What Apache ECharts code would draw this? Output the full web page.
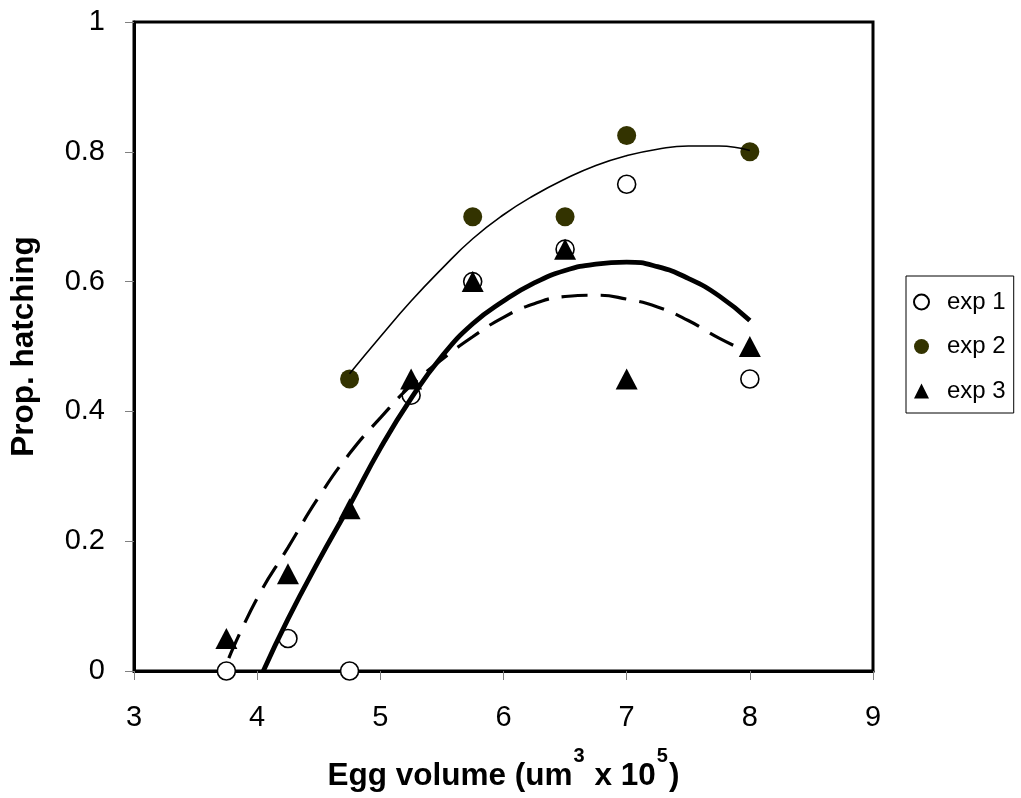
<!DOCTYPE html>
<html>
<head>
<meta charset="utf-8">
<script src="https://cdn.jsdelivr.net/npm/echarts@6/dist/echarts.min.js"></script>
<style>
  html, body { margin: 0; padding: 0; background: #fff; }
  #chart { width: 1021px; height: 798px; }
</style>
</head>
<body>
<div id="chart"></div>
<script>
// Egg volume (x 10^5 um^3) against proportion hatching, three experiments
const exp1 = [[3.75, 0], [4.25, 0.05], [4.75, 0], [5.25, 0.425], [5.75, 0.6], [6.5, 0.65], [7, 0.75], [8, 0.45]];
const exp2 = [[4.75, 0.45], [5.75, 0.7], [6.5, 0.7], [7, 0.825], [8, 0.8]];
const exp3 = [[3.75, 0.05], [4.25, 0.15], [4.75, 0.25], [5.25, 0.45], [5.75, 0.6], [6.5, 0.65], [7, 0.45], [8, 0.5]];

// Fitted trend curves (points along each curve)
const trendExp2 = [[4.75, 0.458], [5.0, 0.515], [5.25, 0.57], [5.5, 0.62], [5.75, 0.666], [6.0, 0.703], [6.25, 0.733],
  [6.5, 0.758], [6.75, 0.779], [7.0, 0.794], [7.25, 0.804], [7.5, 0.809], [7.75, 0.809], [8.0, 0.802]];
const trendExp1 = [[4.05, 0], [4.25, 0.08], [4.5, 0.17], [4.75, 0.255], [5.0, 0.343], [5.25, 0.42], [5.5, 0.485],
  [5.75, 0.535], [6.0, 0.57], [6.25, 0.598], [6.5, 0.617], [6.75, 0.627], [7.0, 0.63], [7.25, 0.623], [7.5, 0.605],
  [7.75, 0.578], [8.0, 0.54]];
const trendExp3 = [[3.77, 0.02], [4.0, 0.112], [4.25, 0.19], [4.5, 0.268], [4.75, 0.335], [5.0, 0.39], [5.25, 0.44],
  [5.5, 0.48], [5.75, 0.515], [6.0, 0.545], [6.25, 0.566], [6.5, 0.577], [6.75, 0.579], [7.0, 0.573], [7.25, 0.561],
  [7.5, 0.54], [7.75, 0.513], [8.0, 0.49]];

const xTicks = { min: 3, max: 9, step: 1 };
const yTicks = { min: 0, max: 1, step: 0.2 };
const seriesNames = ['exp 1', 'exp 2', 'exp 3'];

const FONT = "'Liberation Sans', Arial, sans-serif";

const chart = echarts.init(document.getElementById('chart'), null, { renderer: 'canvas' });

chart.setOption({
  backgroundColor: '#ffffff',
  animation: false,
  grid: {
    left: 134, right: 148, top: 22, bottom: 127,
    containLabel: false,
    outerBoundsMode: 'none',
    show: true, borderColor: '#000', borderWidth: 3, backgroundColor: 'transparent'
  },
  legend: {
    data: seriesNames,
    orient: 'vertical',
    left: 906, top: 276,
    padding: [12, 8, 8, 7],
    itemGap: 16.5,
    itemWidth: 15, itemHeight: 15,
    borderColor: '#000', borderWidth: 1,
    textStyle: { fontFamily: FONT, fontSize: 24, lineHeight: 28, color: '#000', padding: [0, 0, 0, 13] }
  },
  xAxis: {
    type: 'value',
    min: xTicks.min, max: xTicks.max, interval: xTicks.step,
    name: '{b|Egg volume (um}{sup|3}{b| x 10}{sup|5}{b|)}',
    nameLocation: 'middle',
    nameGap: 86,
    nameTextStyle: {
      rich: {
        b: { fontFamily: FONT, fontSize: 31.5, fontWeight: 'bold', color: '#000', lineHeight: 38 },
        sup: { fontFamily: FONT, fontSize: 20, fontWeight: 'bold', color: '#000', lineHeight: 38, padding: [0, 1, 40, 1] }
      }
    },
    axisLine: { show: true, onZero: false, lineStyle: { color: '#000', width: 3 } },
    axisTick: { show: true, length: 9, lineStyle: { color: '#808080', width: 1 } },
    axisLabel: { fontFamily: FONT, fontSize: 29, color: '#000', margin: 32 },
    splitLine: { show: false }
  },
  yAxis: {
    type: 'value',
    min: yTicks.min, max: yTicks.max, interval: yTicks.step,
    name: 'Prop. hatching',
    nameLocation: 'middle',
    nameRotate: 90,
    nameGap: 94,
    nameTextStyle: { fontFamily: FONT, fontSize: 31.5, fontWeight: 'bold', color: '#000' },
    axisLine: { show: true, onZero: false, lineStyle: { color: '#000', width: 3 } },
    axisTick: { show: true, length: 9, lineStyle: { color: '#808080', width: 1 } },
    axisLabel: { fontFamily: FONT, fontSize: 29, color: '#000', margin: 29 },
    splitLine: { show: false }
  },
  series: [
    {
      name: 'exp 1', type: 'scatter', data: exp1, symbol: 'circle', symbolSize: 18, z: 2,
      itemStyle: { color: '#ffffff', borderColor: '#000', borderWidth: 1.6, opacity: 1 }
    },
    {
      name: 'exp 2', type: 'scatter', data: exp2, symbol: 'circle', symbolSize: 19, z: 2,
      itemStyle: { color: '#333300', opacity: 1 }
    },
    {
      name: 'exp 3', type: 'scatter', data: exp3, symbol: 'triangle', symbolSize: [22, 21], z: 3,
      itemStyle: { color: '#000', opacity: 1 }
    },
    {
      type: 'line', data: trendExp2, smooth: true, showSymbol: false, symbol: 'none', z: 4, silent: true,
      lineStyle: { color: '#000', width: 1.6 }
    },
    {
      type: 'line', data: trendExp1, smooth: true, showSymbol: false, symbol: 'none', z: 4, silent: true,
      lineStyle: { color: '#000', width: 4.8 }
    },
    {
      type: 'line', data: trendExp3, smooth: true, showSymbol: false, symbol: 'none', z: 4, silent: true,
      lineStyle: { color: '#000', width: 3.2, type: [26, 13] }
    }
  ]
});
</script>
</body>
</html>
